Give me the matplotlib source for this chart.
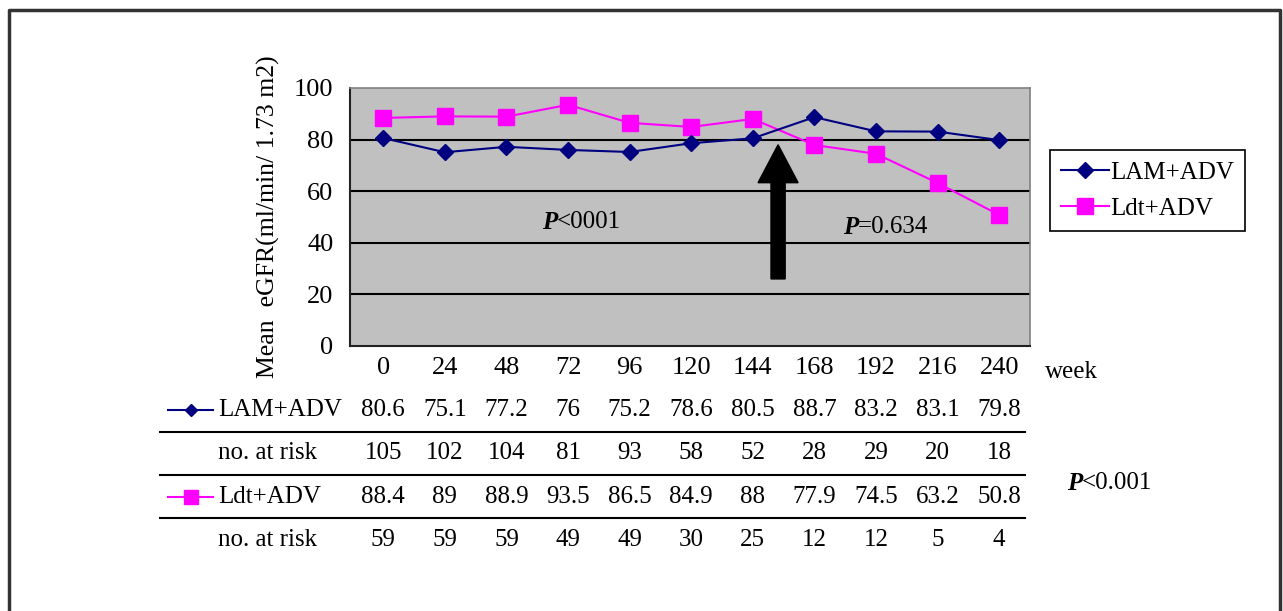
import numpy as np
import matplotlib
matplotlib.use('Agg')
import matplotlib.pyplot as plt
import matplotlib.transforms as mtransforms
from matplotlib.lines import Line2D
from matplotlib.patches import FancyArrow

plt.rcParams['font.family'] = ['Liberation Serif', 'DejaVu Serif']

weeks = ['0', '24', '48', '72', '96', '120', '144', '168', '192', '216', '240']
lam_adv = [80.6, 75.1, 77.2, 76, 75.2, 78.6, 80.5, 88.7, 83.2, 83.1, 79.8]
lam_risk = [105, 102, 104, 81, 93, 58, 52, 28, 29, 20, 18]
ldt_adv = [88.4, 89, 88.9, 93.5, 86.5, 84.9, 88, 77.9, 74.5, 63.2, 50.8]
ldt_risk = [59, 59, 59, 49, 49, 30, 25, 12, 12, 5, 4]

W, H = 1283, 611
NAVY = '#000080'
MAG = '#FF00FF'
FS = 18

fig = plt.figure(figsize=(W / 100, H / 100), dpi=100)


def fy(px):
    return 1 - px / H


def fx(px):
    return px / W


# рамка вокруг рисунка (нижний край обрезан)
fig.add_artist(Line2D([fx(9), fx(9), fx(1280), fx(1280)], [0, fy(10), fy(10), 0],
                      transform=fig.transFigure, color='#333333', lw=2.5))

ax = fig.add_axes([fx(350), fy(346), fx(680), (346 - 88) / H])
ax.set_facecolor('#C0C0C0')
x = np.arange(len(weeks))

ax.plot(x, lam_adv, color=NAVY, marker='D', ms=8, lw=1.5, label='LAM+ADV', zorder=4)
ax.plot(x, ldt_adv, color=MAG, marker='s', ms=11, lw=1.5, label='Ldt+ADV', zorder=3)

ax.set_xlim(-0.54, 10.5)
ax.set_ylim(0, 100)
ax.set_yticks(range(0, 101, 20))
ax.set_xticks(x)
ax.set_xticklabels(weeks)
ax.tick_params(length=0, labelsize=19, pad=8)
ax.tick_params(axis='y', pad=12)
for yv in range(20, 100, 20):
    ax.axhline(yv, color='black', lw=1.5, zorder=1)
for s in ['left', 'bottom']:
    ax.spines[s].set_color('#222222')
    ax.spines[s].set_linewidth(1.5)
for s in ['top', 'right']:
    ax.spines[s].set_color('#808080')
    ax.spines[s].set_linewidth(1.2)

ax.set_ylabel('Mean  eGFR(ml/min/ 1.73 m2)', fontsize=18.5, labelpad=10)

# стрелка
ax.add_patch(FancyArrow(6.41, 26, 0, 52, width=0.23, head_width=0.65, head_length=14.7,
                        length_includes_head=True, color='black', zorder=5))


def ptext(xx, yy, rest, transform):
    ax.text(xx, yy, 'P', fontsize=FS, fontweight='bold', fontstyle='italic',
            ha='right', va='center', transform=transform)
    ax.text(xx, yy, rest, fontsize=FS, ha='left', va='center', transform=transform)


ptext(2.82, 48, '<0001', ax.transData)
ptext(7.71, 46, '=0.634', ax.transData)
ptext(fx(1082), fy(483), '<0.001', fig.transFigure)

fig.text(fx(1045), fy(372), 'week', fontsize=FS, ha='left', va='center')

leg = ax.legend(loc='upper left', bbox_to_anchor=(fx(1050), fy(150)),
                bbox_transform=fig.transFigure, fontsize=18, frameon=True,
                fancybox=False, framealpha=1, edgecolor='black', borderpad=0.45,
                handlelength=1.9, handletextpad=0.05, labelspacing=0.55, borderaxespad=0)
leg.get_frame().set_linewidth(1.2)

# таблица под графиком
tr = mtransforms.blended_transform_factory(ax.transData, fig.transFigure)
rows = [(410, lam_adv), (453, lam_risk), (497, ldt_adv), (540, ldt_risk)]
labels = ['LAM+ADV', 'no. at risk', 'Ldt+ADV', 'no. at risk']
for (ypx, vals), lab in zip(rows, labels):
    fig.text(fx(218), fy(ypx), lab, fontsize=FS, ha='left', va='center')
    for i, v in enumerate(vals):
        ax.text(i, fy(ypx), str(v), fontsize=FS, ha='center', va='center',
                transform=tr, clip_on=False)

for ypx in [432, 475, 518]:
    fig.add_artist(Line2D([fx(160), fx(1025)], [fy(ypx), fy(ypx)],
                          transform=fig.transFigure, color='black', lw=1.5))

fig.add_artist(Line2D([fx(168), fx(213)], [fy(410), fy(410)], transform=fig.transFigure,
                      color=NAVY, lw=1.5))
fig.add_artist(Line2D([fx(191)], [fy(410)], transform=fig.transFigure, color=NAVY,
                      marker='D', ms=6, lw=0))
fig.add_artist(Line2D([fx(168), fx(213)], [fy(497), fy(497)], transform=fig.transFigure,
                      color=MAG, lw=1.5))
fig.add_artist(Line2D([fx(191)], [fy(497)], transform=fig.transFigure, color=MAG,
                      marker='s', ms=10, lw=0))

fig.savefig('out.png', dpi=100)
